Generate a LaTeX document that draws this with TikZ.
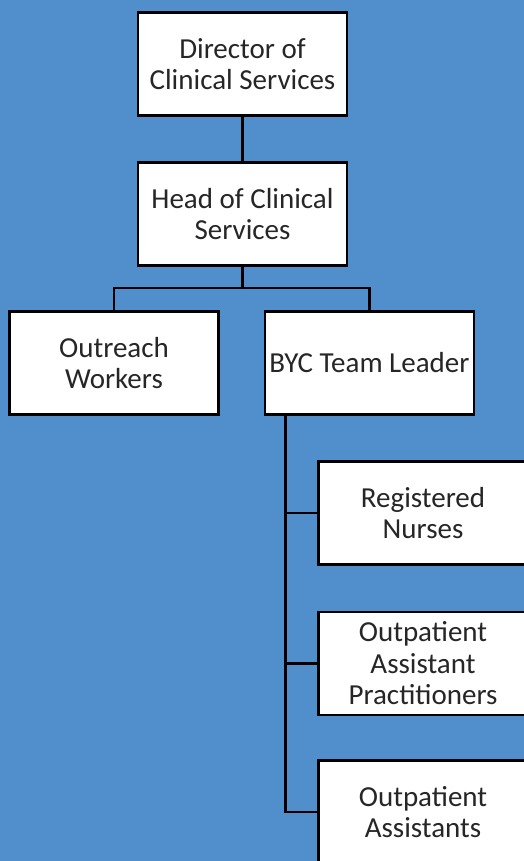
\documentclass[tikz,border=0pt]{standalone}
\usepackage{fontspec}
\setmainfont{Carlito}
\usepackage{tikz}
\usetikzlibrary{positioning}
\definecolor{bgblue}{RGB}{80,143,204}
\tikzstyle{role}=[draw=black, line width=2.8pt, fill=white, minimum width=209pt, minimum height=103pt, align=center, inner sep=0pt, font=\fontsize{29}{31.5}\selectfont, text=black!85]
\tikzstyle{link}=[draw=black, line width=2.8pt]

\begin{document}
\begin{tikzpicture}[x=1pt,y=-1pt]
		\fill[bgblue] (0,0) rectangle (524,861);
		\useasboundingbox (0,0) rectangle (524,861);
		\begin{scope}
		\clip (0,0) rectangle (524,861);
		\node[role] (director) at (242.5,64) {Director of\\Clinical Services};
		\node[role] (head) at (242.5,214) {Head of Clinical\\Services};
		\node[role] (outreach) at (114,363) {Outreach\\Workers};
		\node[role] (byc) at (369.5,363) {BYC Team Leader};
		\node[role] (nurses) at (423,513) {Registered\\Nurses};
		\node[role] (oap) at (423,663.5) {Outpatient\\Assistant\\Practitioners};
		\node[role] (oa) at (423,812) {Outpatient\\Assistants};
		\coordinate (bus) at (242.5,288);
		\coordinate (trunk) at ([xshift=22pt]byc.south west);
		\draw[link] (director) -- (head);
		\draw[link] (head) -- (bus);
		\draw[link] (outreach.north) |- (bus) -| (byc.north);
		\draw[link] (trunk) |- (nurses.west);
		\draw[link] (trunk) |- (oap.west);
		\draw[link] (trunk) |- (oa.west);
		\end{scope}
	\end{tikzpicture}
\end{document}
